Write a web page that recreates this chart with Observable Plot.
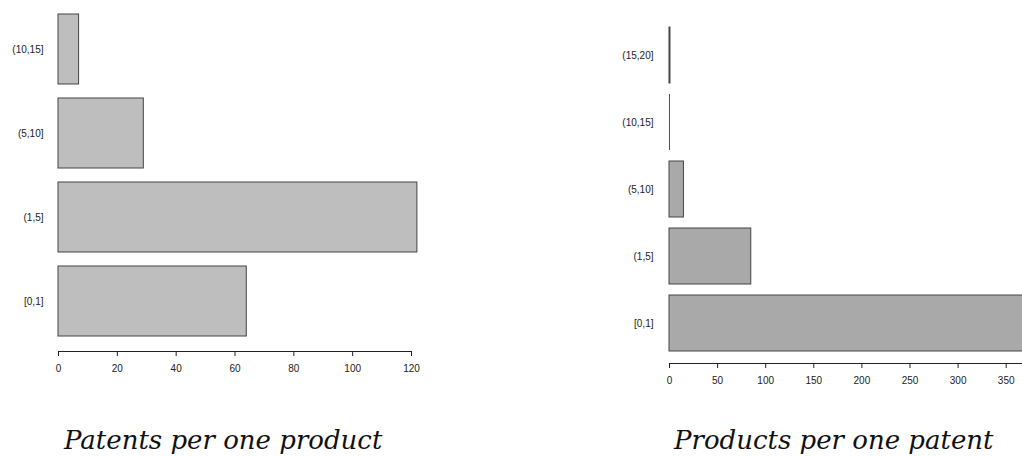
<!DOCTYPE html>
<html>
<head>
<meta charset="utf-8">
<script src="https://cdn.jsdelivr.net/npm/d3@7"></script>
<script src="https://cdn.jsdelivr.net/npm/@observablehq/plot@0.6"></script>
<style>
  html, body { margin: 0; padding: 0; background: #fff; overflow: hidden; }
  #wrap { position: relative; width: 1022px; height: 456px; }
  .panel { position: absolute; top: 0; width: 511px; height: 400px; }
  .panel svg { overflow: hidden; }
  .title { position: absolute; top: 425px; font-family: "DejaVu Serif", serif; font-style: italic; font-size: 26px; color: #111; white-space: nowrap; }
</style>
</head>
<body>
<div id="wrap">
  <div class="panel" id="left" style="left:0"></div>
  <div class="panel" id="right" style="left:511px"></div>
  <div class="title" id="t1"></div>
  <div class="title" id="t2"></div>
</div>
<script>
// Left chart: patents per one product
const leftCategories = ["[0,1]", "(1,5]", "(5,10]", "(10,15]"];
const leftValues = [64, 122, 29, 7];
const leftTicks = [0, 20, 40, 60, 80, 100, 120];
const leftTitle = "Patents per one product";

// Right chart: products per one patent
const rightCategories = ["[0,1]", "(1,5]", "(5,10]", "(10,15]", "(15,20]"];
const rightValues = [410, 85, 15, 0, 1];
const rightTicks = [0, 50, 100, 150, 200, 250, 300, 350];
const rightTitle = "Products per one patent";

const leftData = leftCategories.map((c, i) => ({cat: c, v: leftValues[i]}));
const rightData = rightCategories.map((c, i) => ({cat: c, v: rightValues[i]}));

const common = {
  style: {fontFamily: "'Liberation Sans', Arial, sans-serif", fontSize: "10px", color: "#222", background: "#fff"}
};

const leftPlot = Plot.plot({
  ...common,
  width: 511,
  height: 400,
  marginTop: 0,
  marginBottom: 49,
  marginLeft: 58,
  marginRight: 100,
  x: {domain: [0, 120], ticks: leftTicks, tickSize: 5, tickPadding: 8, line: true, label: null},
  y: {domain: leftCategories.slice().reverse(), paddingInner: 0.166, paddingOuter: 0.166, tickSize: 0, tickPadding: 15, label: null},
  marks: [
    Plot.barX(leftData, {x: "v", y: "cat", fill: "#bebebe", stroke: "#444", strokeWidth: 1})
  ]
});
document.getElementById("left").appendChild(leftPlot);

const rightPlot = Plot.plot({
  ...common,
  width: 511,
  height: 400,
  marginTop: 15,
  marginBottom: 37,
  marginLeft: 158,
  marginRight: 0,
  x: {domain: [0, 400], range: [158, 158 + 400 * 0.962], ticks: rightTicks, tickSize: 5, tickPadding: 8, line: true, label: null},
  y: {domain: rightCategories.slice().reverse(), paddingInner: 0.165, paddingOuter: 0.165, tickSize: 0, tickPadding: 16, label: null},
  marks: [
    Plot.barX(rightData, {x: "v", y: "cat", fill: "#a9a9a9", stroke: "#444", strokeWidth: 1}),
    // zero-height bars are drawn by R as a single border line
    Plot.tickX(rightData, {filter: d => d.v === 0, x: "v", y: "cat", stroke: "#555", strokeWidth: 1})
  ]
});
document.getElementById("right").appendChild(rightPlot);

function placeTitle(id, text, left) {
  const el = document.getElementById(id);
  el.textContent = text;
  el.style.left = left + "px";
}
placeTitle("t1", leftTitle, 64);
placeTitle("t2", rightTitle, 674);
</script>
</body>
</html>
